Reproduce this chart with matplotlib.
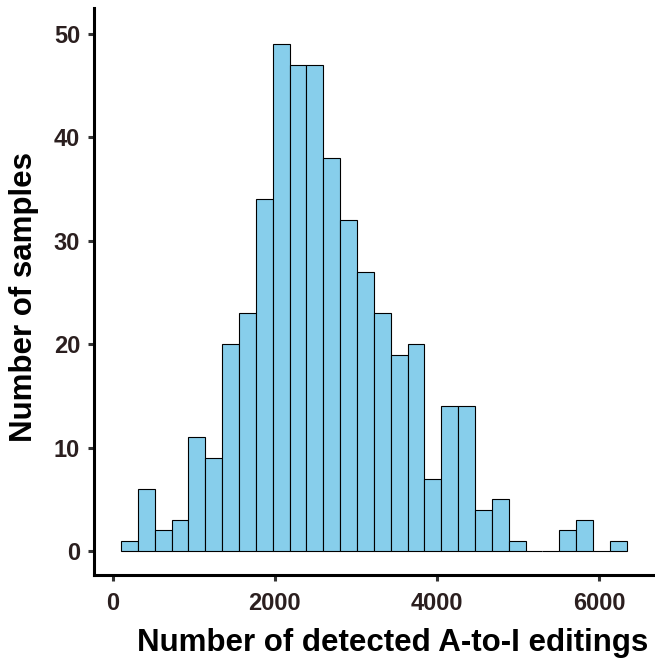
import matplotlib.pyplot as plt
import numpy as np

# histogram counts (30 bins)
counts = [1, 6, 2, 3, 11, 9, 20, 23, 34, 49, 47, 47, 38, 32, 27,
          23, 19, 20, 7, 14, 14, 4, 5, 1, 0, 0, 2, 3, 0, 1]
bin_start = 103
bin_width = 208

xticks = [0, 2000, 4000, 6000]
yticks = [0, 10, 20, 30, 40, 50]

plt.rcParams['font.family'] = ['Liberation Sans', 'DejaVu Sans']

fig = plt.figure(figsize=(6.55, 6.62), dpi=100)
ax = fig.add_axes([0.1435, 0.1314, 0.8534, 0.8565])

left_edges = bin_start + bin_width * np.arange(len(counts))
ax.bar(left_edges, counts, bin_width, align='edge',
       color='#87CEEB', edgecolor='black', linewidth=0.8)

ax.set_xlim(-231, 6667)
ax.set_ylim(-2.32, 52.5)
ax.set_xticks(xticks)
ax.set_yticks(yticks)

for s in ['top', 'right']:
    ax.spines[s].set_visible(False)
for s in ['left', 'bottom']:
    ax.spines[s].set_linewidth(2.2)
    ax.spines[s].set_color('black')

ax.tick_params(length=4.5, width=2.2, color='#333333', labelcolor='#2b1f1f',
               labelsize=17)
ax.tick_params(axis='x', pad=8)
ax.tick_params(axis='y', pad=5.5)
for lbl in ax.get_xticklabels() + ax.get_yticklabels():
    lbl.set_fontweight('bold')

ax.set_xlabel("Number of detected A-to-I editings", fontsize=22.5,
              fontweight='bold', va='baseline')
ax.xaxis.set_label_coords(0.534, -0.134)
ax.set_ylabel("Number of samples", fontsize=22.5, fontweight='bold')
ax.yaxis.set_label_coords(-0.0975, 0.491)

fig.savefig('out.png', dpi=100)
